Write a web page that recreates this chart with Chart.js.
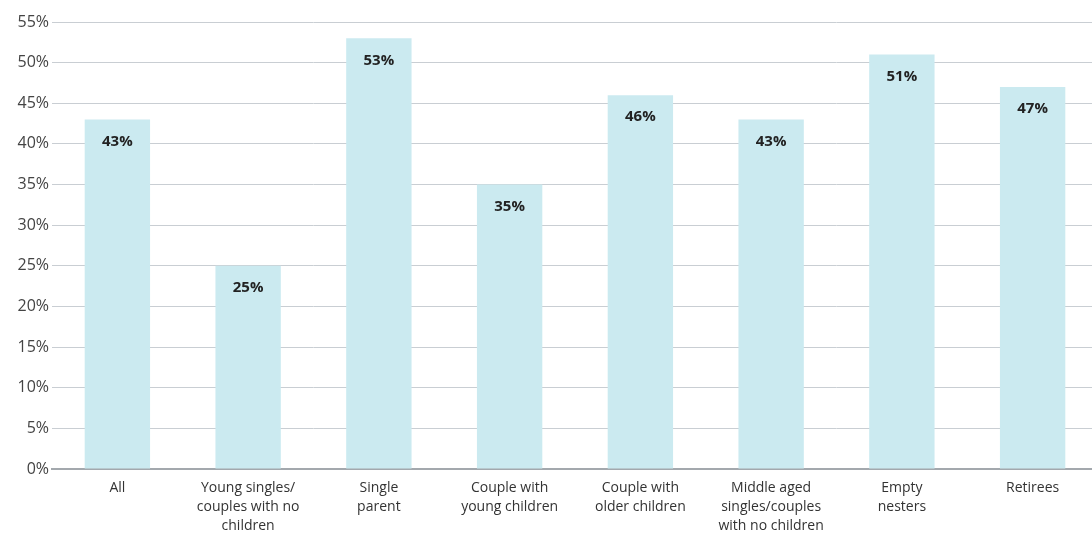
<!DOCTYPE html>
<html>
<head>
<meta charset="utf-8">
<script src="https://cdn.jsdelivr.net/npm/chart.js@4/dist/chart.umd.min.js"></script>
<style>
    html, body { margin: 0; padding: 0; background: #fff; overflow: hidden; }
    #wrap { width: 1098px; height: 533px; position: relative; }
</style>
</head>
<body>
<div id="wrap"><canvas id="householdChart"></canvas></div>
<script>
// Household types
const categories = [
    'All',
    ['Young singles/', 'couples with no', 'children'],
    ['Single', 'parent'],
    ['Couple with', 'young children'],
    ['Couple with', 'older children'],
    ['Middle aged', 'singles/couples', 'with no children'],
    ['Empty', 'nesters'],
    'Retirees'
];

// Share in percent
const shares = [43, 25, 53, 35, 46, 43, 51, 47];

// Y axis ticks
const yMax = 55;
const yStep = 5;

// Draw the value labels near the top of each bar
const barLabels = {
    id: 'barLabels',
    afterDatasetsDraw(chart) {
        const ctx = chart.ctx;
        const meta = chart.getDatasetMeta(0);
        ctx.save();
        ctx.font = 'bold 15px "Open Sans", sans-serif';
        ctx.fillStyle = '#222';
        ctx.textAlign = 'center';
        ctx.textBaseline = 'middle';
        meta.data.forEach((bar, i) => {
            ctx.fillText(shares[i] + '%', bar.x, bar.y + 22);
        });
        ctx.restore();
    }
};

const ctx = document.getElementById('householdChart').getContext('2d');
new Chart(ctx, {
    type: 'bar',
    data: {
        labels: categories,
        datasets: [{
            data: shares,
            backgroundColor: '#cbeaf0',
            categoryPercentage: 1,
            barPercentage: 0.5
        }]
    },
    options: {
        responsive: true,
        maintainAspectRatio: false,
        animation: false,
        layout: { padding: { top: 22, right: 0, bottom: 0, left: 0 } },
        plugins: {
            legend: { display: false },
            tooltip: { enabled: false }
        },
        scales: {
            x: {
                afterFit(scale) { scale.height = 64; },
                grid: { display: false, drawTicks: false },
                border: { color: '#a3a8ad', width: 2 },
                ticks: {
                    color: '#333',
                    font: { family: '"Open Sans", sans-serif', size: 14, lineHeight: 1.35 },
                    padding: 10,
                    maxRotation: 0,
                    autoSkip: false
                }
            },
            y: {
                min: 0,
                max: yMax,
                afterFit(scale) { scale.width = 52; },
                grid: { color: '#c9ced3', lineWidth: 1, drawTicks: false },
                border: { display: false },
                ticks: {
                    stepSize: yStep,
                    color: '#444',
                    padding: 3,
                    font: { family: '"Open Sans", sans-serif', size: 16 },
                    callback: v => v + '%'
                }
            }
        }
    },
    plugins: [barLabels]
});
</script>
</body>
</html>
